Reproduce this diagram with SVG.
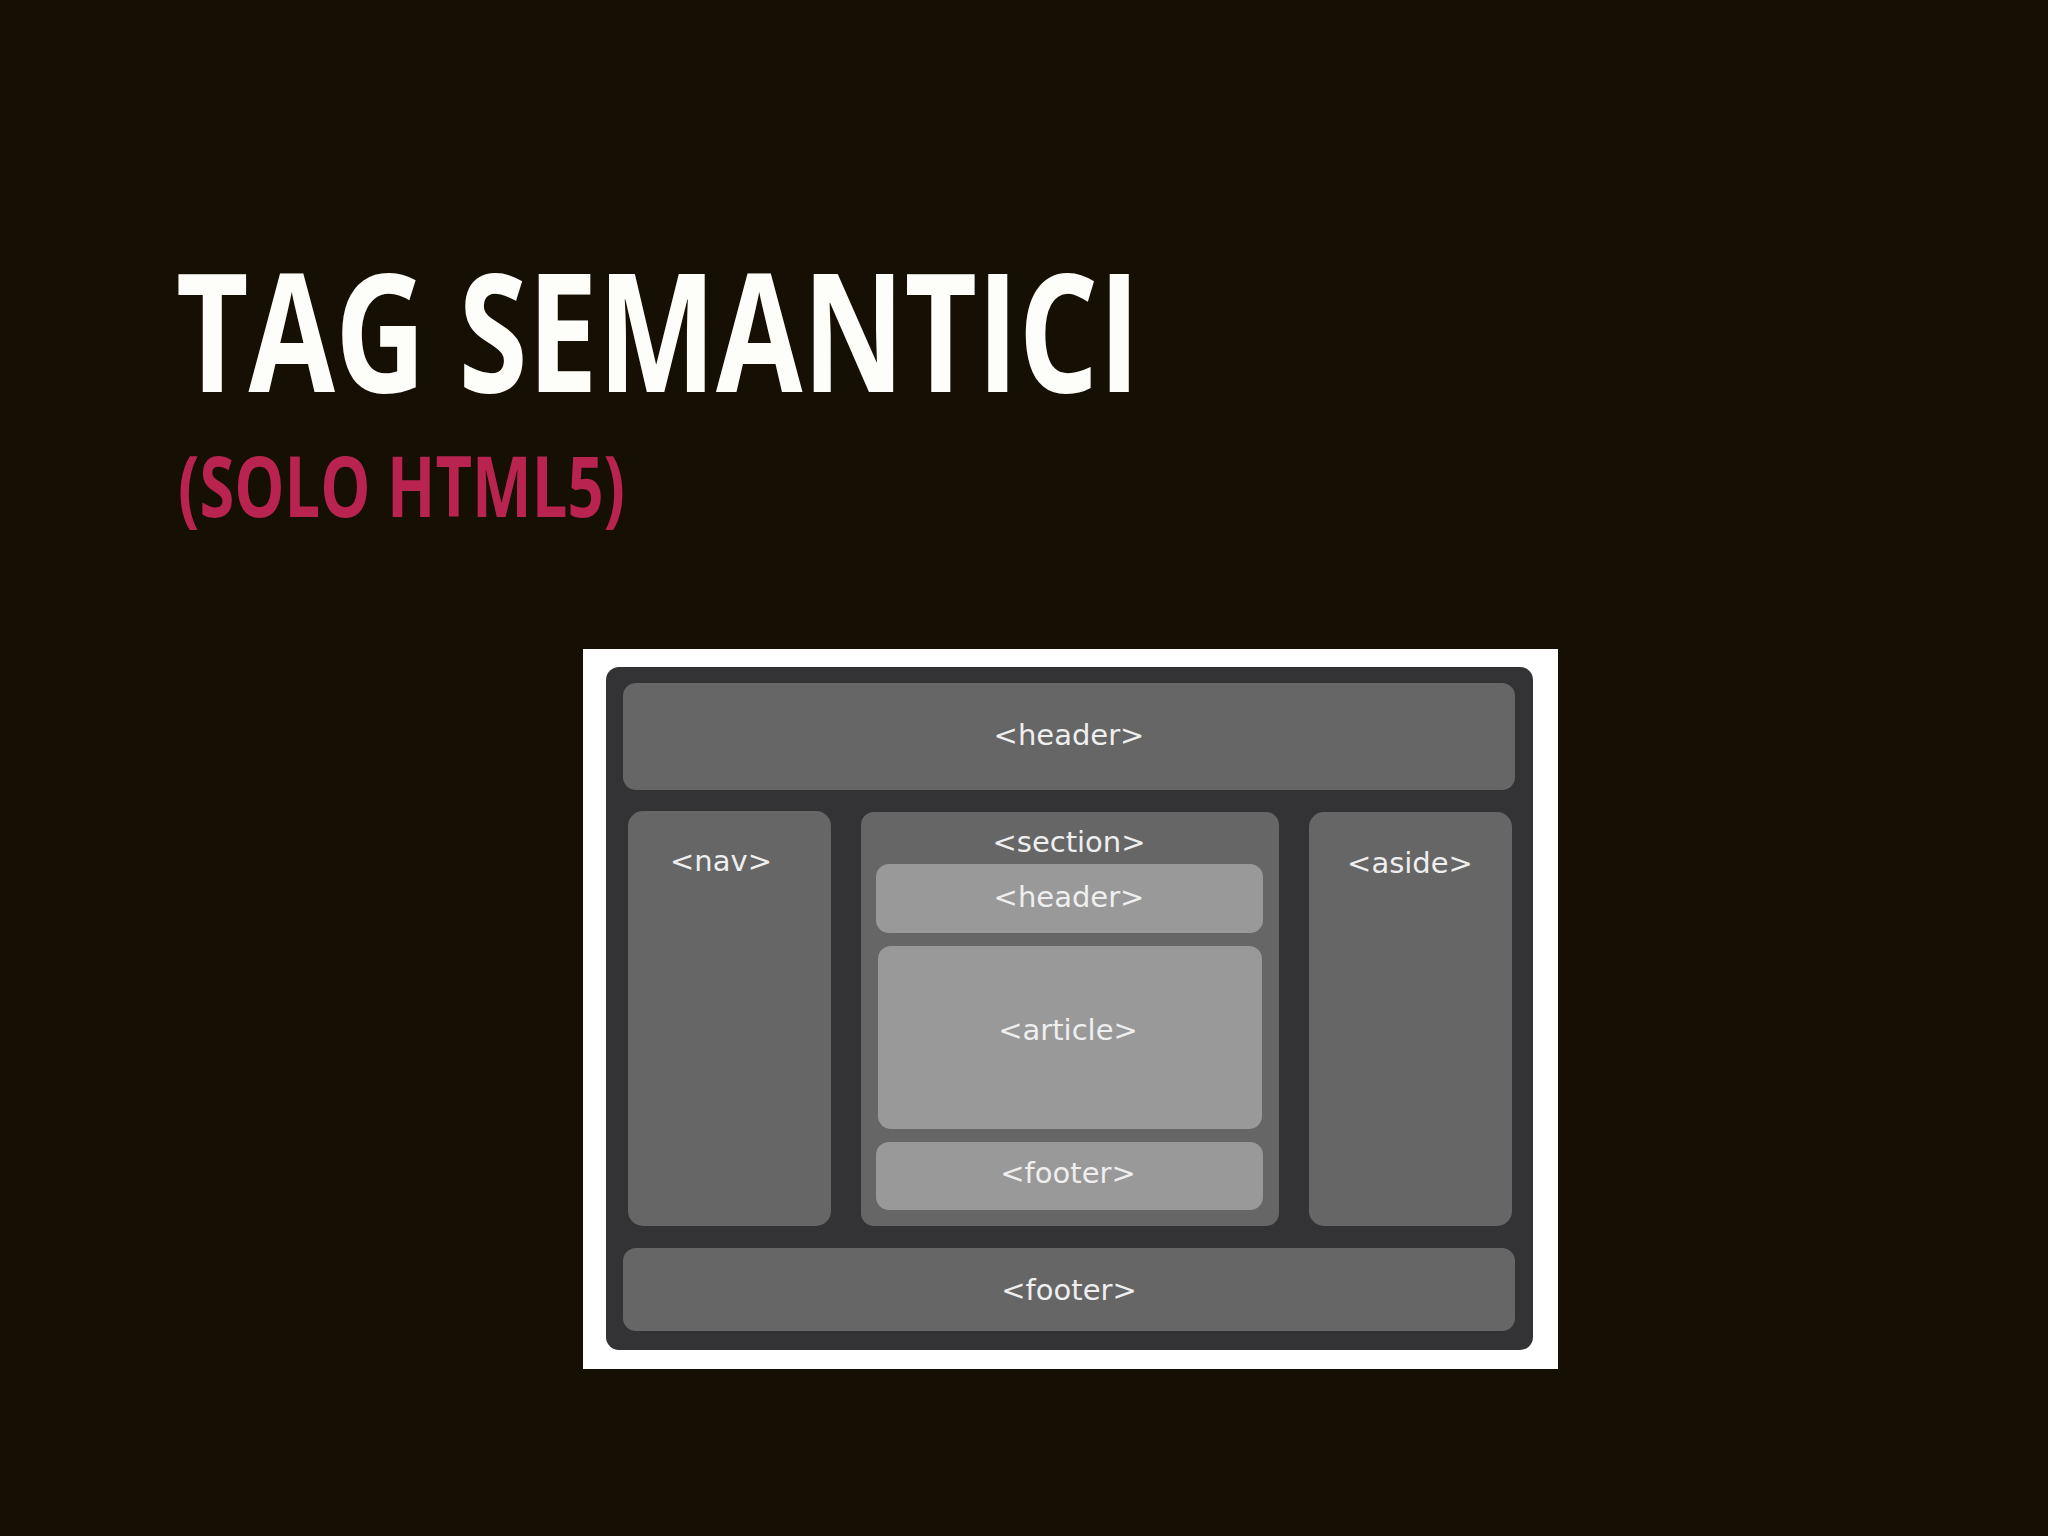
<svg xmlns="http://www.w3.org/2000/svg" width="2048" height="1536" viewBox="0 0 2048 1536">
<style>
.title{font-family:"Open Sans","Liberation Sans",sans-serif;font-weight:700;fill:#fdfdf9}
.sub{font-family:"Open Sans","Liberation Sans",sans-serif;font-weight:700;fill:#b8244f}
.frame{fill:#333335}
.mid{fill:#666667}
.light{fill:#999999}
.lbl{font-family:"DejaVu Sans","Liberation Sans",sans-serif;font-size:29px;fill:#efefef;text-anchor:middle}
</style>
<rect x="0" y="0" width="2048" height="1536" fill="#150f04"/>
<text class="title" x="176" y="392" font-size="166" textLength="964" lengthAdjust="spacingAndGlyphs">TAG SEMANTICI</text>
<text class="sub" x="178" y="517" font-size="84" textLength="447" lengthAdjust="spacingAndGlyphs">(SOLO HTML5)</text>
<g id="diagram">
<rect x="583" y="649" width="975" height="720" fill="#ffffff"/>
<rect class="frame" x="606" y="667" width="927" height="683" rx="13"/>
</g>
<g id="header">
<rect class="mid" x="623" y="683" width="892" height="107" rx="13"/>
<text class="lbl" x="1069" y="745">&lt;header&gt;</text>
</g>
<g id="nav">
<rect class="mid" x="628" y="811" width="203" height="415" rx="15"/>
<text class="lbl" x="721" y="871">&lt;nav&gt;</text>
</g>
<g id="section">
<rect class="mid" x="861" y="812" width="418" height="414" rx="13"/>
<text class="lbl" x="1069" y="852">&lt;section&gt;</text>
</g>
<g id="section-header">
<rect class="light" x="876" y="864" width="387" height="69" rx="13"/>
<text class="lbl" x="1069" y="907">&lt;header&gt;</text>
</g>
<g id="article">
<rect class="light" x="878" y="946" width="384" height="183" rx="13"/>
<text class="lbl" x="1068" y="1040">&lt;article&gt;</text>
</g>
<g id="section-footer">
<rect class="light" x="876" y="1142" width="387" height="68" rx="13"/>
<text class="lbl" x="1068" y="1183">&lt;footer&gt;</text>
</g>
<g id="aside">
<rect class="mid" x="1309" y="812" width="203" height="414" rx="15"/>
<text class="lbl" x="1410" y="873">&lt;aside&gt;</text>
</g>
<g id="footer">
<rect class="mid" x="623" y="1248" width="892" height="83" rx="13"/>
<text class="lbl" x="1069" y="1300">&lt;footer&gt;</text>
</g>
<g id="connectors"/>
</svg>
